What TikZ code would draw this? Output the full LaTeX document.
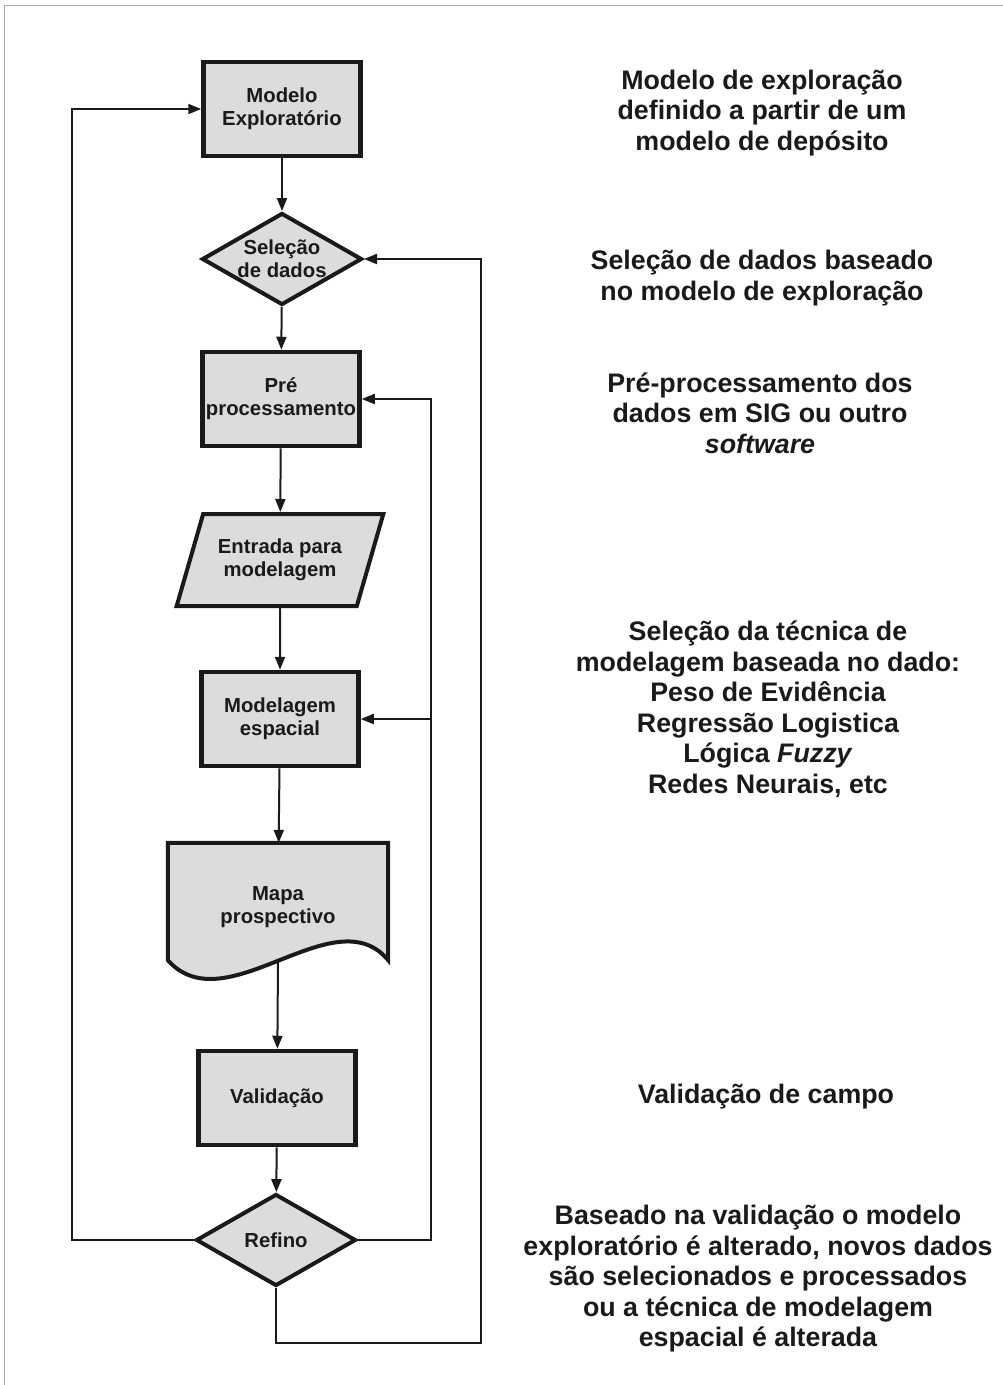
\documentclass[tikz,border=0pt]{standalone}
\usepackage{fontspec}
\setmainfont{Liberation Sans}
\usetikzlibrary{arrows.meta,positioning,calc,shapes.geometric,backgrounds}
\definecolor{ink}{HTML}{1A1A1A}
\definecolor{boxgray}{HTML}{DCDCDC}
\definecolor{framegray}{HTML}{A8A8A8}
\tikzset{
  >={Triangle[length=13pt,width=10pt]},
  every node/.style={text=ink,font=\bfseries\fontsize{20.3}{23}\selectfont},
  proc/.style={draw=ink,line width=4.5pt,fill=boxgray,align=center,minimum width=157pt,minimum height=94pt,inner sep=0pt},
  decision/.style={diamond,draw=ink,line width=4pt,fill=boxgray,align=center,aspect=1.72,minimum width=160pt,minimum height=92pt,inner sep=0pt},
  inout/.style={trapezium,trapezium stretches=true,trapezium left angle=63,trapezium right angle=117,draw=ink,line width=4pt,fill=boxgray,align=center,minimum width=207pt,minimum height=92pt,inner sep=0pt},
  docarea/.style={align=center,minimum width=220pt,minimum height=128pt,inner sep=0pt},
  docline/.style={draw=ink,line width=4pt,fill=boxgray},
  arrow/.style={->,line width=2pt,draw=ink},
  note/.style={align=center,font=\bfseries\fontsize{26.8}{30.5}\selectfont}
}
\begin{document}
\begin{tikzpicture}[x=1pt,y=-1pt]
  \useasboundingbox (0,0) rectangle (1003,1385);
  \draw[framegray,line width=1pt] (4,1385) -- (4,5) -- (1003,5);

  % fluxo principal
  \node[proc] (modelo) at (282,109) {Modelo\\Exploratório};
  \node[decision] (selecao) at (282,259) {Seleção\\de dados};
  \node[proc] (pre) at (281,399) {Pré\\processamento};
  \node[inout] (entrada) at (280,560) {Entrada para\\modelagem};
  \node[proc] (modelagem) at (280,719) {Modelagem\\espacial};
  \node[docarea] (mapa) at (278,907) {Mapa\\prospectivo};
  \begin{scope}[on background layer]
    \path[docline] (mapa.north west) -- (mapa.north east) -- ($(mapa.south east)+(0,-11)$)
      .. controls ($(mapa.south east)+(-54,-76)$) and ($(mapa.south west)+(58,54)$) .. ($(mapa.south west)+(0,-11)$) -- cycle;
  \end{scope}
  \coordinate (mapaout) at ($(mapa.south)+(0,-11)$);
  \node[proc] (validacao) at (277,1098) {Validação};
  \node[decision] (refino) at (276,1240) {Refino};

  \draw[arrow] (modelo)--(selecao);
  \draw[arrow] (selecao)--(pre);
  \draw[arrow] (pre)--(entrada);
  \draw[arrow] (entrada)--(modelagem);
  \draw[arrow] (modelagem)--(mapa);
  \draw[arrow] (mapaout)--(validacao);
  \draw[arrow] (validacao)--(refino);

  % retornos do refino
  \coordinate (lx) at (72,0);
  \coordinate (ix) at (431,0);
  \coordinate (ob) at (481,1343);
  \draw[arrow] (refino.west) -- (refino.west -| lx) |- (modelo.west);
  \draw[arrow] (refino.east) -| (pre.east -| ix) -- (pre.east);
  \draw[arrow] (modelagem.east -| ix) -- (modelagem.east);
  \draw[arrow] (refino.south) -- (refino.south |- ob) -| (selecao.east -| ob) -- (selecao.east);

  % descricoes
  \node[note] (n1) at (762,113) {Modelo de exploração\\definido a partir de um\\modelo de depósito};
  \node[note] (n2) at (762,278) {Seleção de dados baseado\\no modelo de exploração};
  \node[note] (n3) at (760,413) {Pré-processamento dos\\dados em SIG ou outro\\\textit{software}};
  \node[note] (n4) at (768,709) {Seleção da técnica de\\modelagem baseada no dado:\\Peso de Evidência\\Regressão Logistica\\Lógica \textit{Fuzzy}\\Redes Neurais, etc};
  \node[note] (n5) at (766,1097) {Validação de campo};
  \node[note] (n6) at (758,1279) {Baseado na validação o modelo\\exploratório é alterado, novos dados\\são selecionados e processados\\ou a técnica de modelagem\\espacial é alterada};
\end{tikzpicture}
\end{document}
